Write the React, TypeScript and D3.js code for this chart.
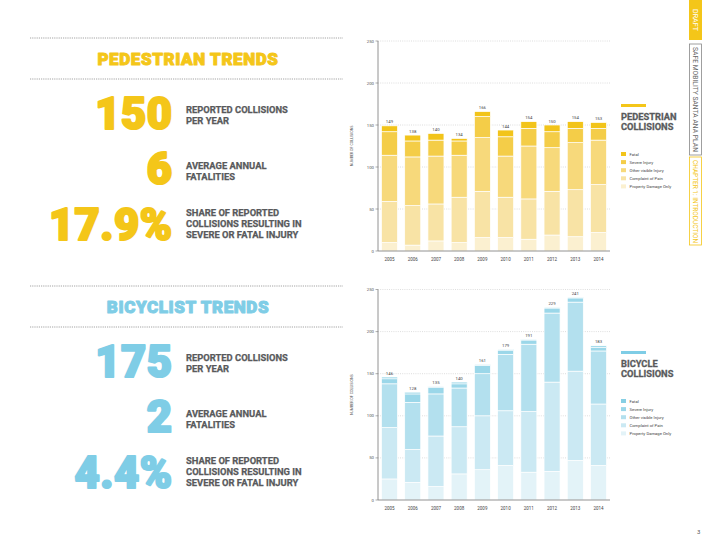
import React from "react";
import * as d3 from "d3";

const years = ["2005", "2006", "2007", "2008", "2009", "2010", "2011", "2012", "2013", "2014"];
const severityKeys = ["pdo", "complaint", "other", "severe", "fatal"];
const legendLabels = ["Fatal", "Severe Injury", "Other visible Injury", "Complaint of Pain", "Property Damage Only"];
const yTicks = [0, 50, 100, 150, 200, 250];

// Pedestrian collisions by severity
const pedPdo = [10, 7, 12, 10, 16, 16, 14, 19, 17, 22];
const pedComplaint = [49, 47, 44, 54, 55, 48, 48, 52, 56, 57];
const pedOther = [55, 58, 57, 50, 64, 49, 63, 52, 56, 53];
const pedSevere = [28, 19, 19, 17, 25, 23, 21, 19, 17, 14];
const pedFatal = [7, 7, 8, 3, 6, 8, 8, 8, 8, 7];
const pedTotals = [149, 138, 140, 134, 166, 144, 154, 150, 154, 153];

// Bicycle collisions by severity
const bikePdo = [25, 21, 16, 31, 36, 41, 33, 34, 47, 41];
const bikeComplaint = [61, 39, 60, 56, 64, 65, 72, 106, 106, 73];
const bikeOther = [52, 56, 50, 46, 50, 67, 80, 82, 82, 63];
const bikeSevere = [6, 10, 8, 5, 10, 5, 5, 6, 5, 4];
const bikeFatal = [2, 2, 1, 2, 1, 1, 1, 1, 1, 2];
const bikeTotals = [146, 128, 135, 140, 161, 179, 191, 229, 241, 183];

const YELLOW = "#f4c619";
const BLUE = "#7fcde6";
const pedColors = ["#fbf0d0", "#f8e3a5", "#f7d97b", "#f4cd48", "#f2c41a"];
const bikeColors = ["#e3f3f8", "#cbe9f3", "#b3e0ee", "#9bd7e9", "#86cfe4"];
const TEXT = "#58595b";
const HEAVY = "Roboto, 'Open Sans', sans-serif";

type ChartProps = {
  top: number;
  bottom: number;
  pdo: number[];
  complaint: number[];
  other: number[];
  severe: number[];
  fatal: number[];
  totals: number[];
  colors: string[];
};

function StackedChart(p: ChartProps) {
  const rows = years.map((y, i) => ({
    year: y,
    pdo: p.pdo[i],
    complaint: p.complaint[i],
    other: p.other[i],
    severe: p.severe[i],
    fatal: p.fatal[i],
  }));
  const series = d3.stack<any>().keys(severityKeys)(rows);
  const x = d3.scaleBand<string>().domain(years).range([378, 610]).paddingInner(0.31).paddingOuter(0.15);
  const y = d3.scaleLinear().domain([0, 250]).range([p.bottom, p.top]);
  const axisX = 378;
  return (
    <g>
      {yTicks.filter((t) => t > 0).map((t) => (
        <line key={"g" + t} x1={axisX} x2={610} y1={y(t)} y2={y(t)} stroke="#c8c8c8" strokeWidth={0.6} strokeDasharray="1,1.2" />
      ))}
      {series.map((s, si) => (
        <g key={s.key} fill={p.colors[si]}>
          {s.map((d, i) => (
            <rect
              key={i}
              x={x(years[i])}
              width={x.bandwidth()}
              y={y(d[1])}
              height={Math.max(0, y(d[0]) - y(d[1]))}
              stroke="#ffffff"
              strokeWidth={0.7}
            />
          ))}
        </g>
      ))}
      {p.totals.map((t, i) => (
        <text
          key={"t" + i}
          x={(x(years[i]) as number) + x.bandwidth() / 2}
          y={y(series[4][i][1]) - 2.5}
          textAnchor="middle"
          fontSize={4.3}
          fill="#444"
          fontFamily="Roboto, sans-serif"
        >
          {t}
        </text>
      ))}
      <line x1={axisX} x2={axisX} y1={p.top} y2={p.bottom} stroke="#777" strokeWidth={0.8} />
      <line x1={axisX} x2={610} y1={p.bottom} y2={p.bottom} stroke="#777" strokeWidth={0.8} />
      {yTicks.map((t) => (
        <g key={"yt" + t}>
          <line x1={axisX - 2.5} x2={axisX} y1={y(t)} y2={y(t)} stroke="#777" strokeWidth={0.6} />
          <text x={axisX - 4} y={y(t) + 1.5} textAnchor="end" fontSize={4.3} fill="#555" fontFamily="Roboto, sans-serif">
            {t}
          </text>
        </g>
      ))}
      {years.map((yr) => (
        <text
          key={"x" + yr}
          x={(x(yr) as number) + x.bandwidth() / 2}
          y={p.bottom + 10}
          textAnchor="middle"
          fontSize={4.5}
          fill="#444"
          fontFamily="Roboto, sans-serif"
        >
          {yr}
        </text>
      ))}
      <text
        transform={`translate(353,${(p.top + p.bottom) / 2}) rotate(-90)`}
        textAnchor="middle"
        fontSize={3.6}
        fill="#555"
        fontFamily="Roboto, sans-serif"
      >
        NUMBER OF COLLISIONS
      </text>
    </g>
  );
}

function Legend({ top, title, color, colors }: { top: number; title: string; color: string; colors: string[] }) {
  const order = [4, 3, 2, 1, 0];
  return (
    <g>
      <rect x={621} y={top} width={25} height={3} fill={color} />
      <text x={621} y={top + 15.5} fontSize={9.3} fontWeight={700} fill={TEXT} stroke={TEXT} strokeWidth={0.3} fontFamily={HEAVY}>
        {title}
      </text>
      <text x={621} y={top + 25.5} fontSize={9.3} fontWeight={700} fill={TEXT} stroke={TEXT} strokeWidth={0.3} fontFamily={HEAVY}>
        COLLISIONS
      </text>
      {legendLabels.map((l, i) => (
        <g key={l}>
          <rect x={621} y={top + 48 + i * 8.1} width={5} height={4} fill={colors[order[i]]} />
          <text x={629.5} y={top + 51.6 + i * 8.1} fontSize={4.2} fill="#444" fontFamily="Roboto, sans-serif">
            {l}
          </text>
        </g>
      ))}
    </g>
  );
}

function StatBlock({
  top,
  color,
  title,
  big,
}: {
  top: number;
  color: string;
  title: string;
  big: string[];
}) {
  const lines = [["REPORTED COLLISIONS", "PER YEAR"], ["AVERAGE ANNUAL", "FATALITIES"], ["SHARE OF REPORTED", "COLLISIONS RESULTING IN", "SEVERE OR FATAL INJURY"]];
  const bigBase = [top + 92, top + 147, top + 203];
  const textBase = [top + 75, top + 131, top + 178];
  return (
    <g>
      <line x1={30} x2={343} y1={top} y2={top} stroke="#9a9a9a" strokeWidth={0.9} strokeDasharray="1.2,1" />
      <text
        x={188}
        y={top + 27}
        textAnchor="middle"
        fontSize={17}
        fontWeight={900}
        fill={color}
        stroke={color}
        strokeWidth={1}
        strokeLinejoin="round"
        fontFamily={HEAVY}
        letterSpacing={0.6}
      >
        {title}
      </text>
      <line x1={30} x2={343} y1={top + 41} y2={top + 41} stroke="#9a9a9a" strokeWidth={0.9} strokeDasharray="1.2,1" />
      {big.map((b, i) => (
        <text
          key={b}
          x={172.5}
          y={bigBase[i] - 1}
          textAnchor="end"
          fontSize={43.5}
          fontWeight={900}
          fill={color}
          stroke={color}
          strokeWidth={2.2}
          strokeLinejoin="round"
          fontFamily={HEAVY}
          letterSpacing={0.5}
        >
          {b}
        </text>
      ))}
      {lines.map((ls, i) =>
        ls.map((l, j) => (
          <text key={l} x={186} y={textBase[i] + j * 11} fontSize={9.4} fontWeight={700} fill={TEXT} stroke={TEXT} strokeWidth={0.25} fontFamily={HEAVY}>
            {l}
          </text>
        ))
      )}
    </g>
  );
}

export default function App() {
  return (
    <svg width={710} height={547} style={{ position: "absolute", left: 0, top: 0, background: "#fff" }}>
      <rect width={710} height={547} fill="#fff" />
      <StatBlock top={38} color={YELLOW} title="PEDESTRIAN TRENDS" big={["150", "6", "17.9%"]} />
      <StatBlock top={286} color={BLUE} title="BICYCLIST TRENDS" big={["175", "2", "4.4%"]} />

      <StackedChart
        top={41}
        bottom={251}
        pdo={pedPdo}
        complaint={pedComplaint}
        other={pedOther}
        severe={pedSevere}
        fatal={pedFatal}
        totals={pedTotals}
        colors={pedColors}
      />
      <StackedChart
        top={289.5}
        bottom={500}
        pdo={bikePdo}
        complaint={bikeComplaint}
        other={bikeOther}
        severe={bikeSevere}
        fatal={bikeFatal}
        totals={bikeTotals}
        colors={bikeColors}
      />
      <Legend top={104} title="PEDESTRIAN" color={YELLOW} colors={pedColors} />
      <Legend top={351} title="BICYCLE" color={BLUE} colors={bikeColors} />

      {/* side tabs */}
      <rect x={689} y={0} width={13} height={40} fill={YELLOW} />
      <text transform="translate(693.3,9) rotate(90)" fontSize={6.4} fill="#fff" fontFamily="Roboto, sans-serif" textLength={22} lengthAdjust="spacingAndGlyphs">
        DRAFT
      </text>
      <rect x={689.5} y={44} width={12} height={111} fill="none" stroke="#888" strokeWidth={0.8} />
      <text transform="translate(693.3,47) rotate(90)" fontSize={6.4} fill="#666" fontFamily="Roboto, sans-serif" textLength={105} lengthAdjust="spacingAndGlyphs">
        SAFE MOBILITY SANTA ANA PLAN
      </text>
      <rect x={689.5} y={157} width={12} height={88} fill="none" stroke={YELLOW} strokeWidth={0.8} />
      <text transform="translate(693.3,160) rotate(90)" fontSize={6.4} fill={YELLOW} fontFamily="Roboto, sans-serif" textLength={83} lengthAdjust="spacingAndGlyphs">
        CHAPTER 1: INTRODUCTION
      </text>
      <text x={697} y={534} fontSize={6} fill="#555" fontFamily="Roboto, sans-serif">
        3
      </text>
    </svg>
  );
}
